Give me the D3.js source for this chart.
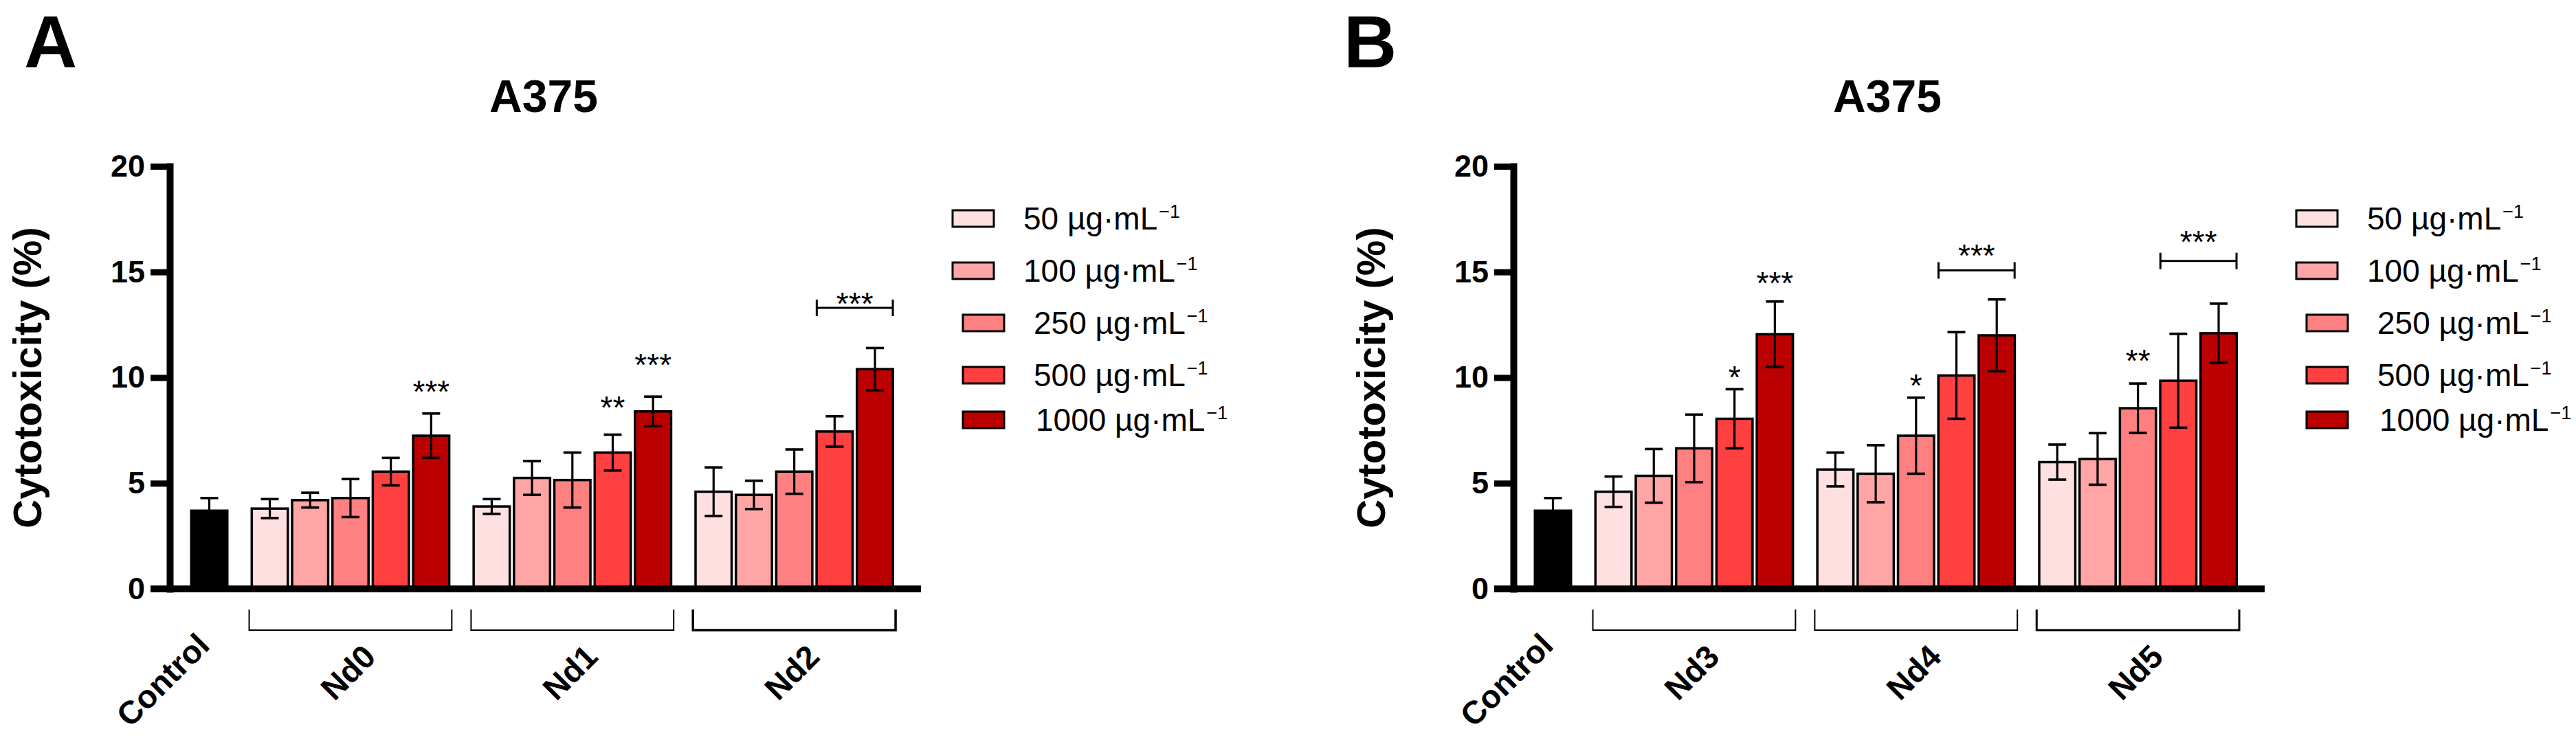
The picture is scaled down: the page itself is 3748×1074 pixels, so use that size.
<!DOCTYPE html>
<html>
<head>
<meta charset="utf-8">
<script src="https://cdn.jsdelivr.net/npm/d3@7"></script>
<style>
  body { margin: 0; background: #fff; }
  svg { display: block; }
  text { font-family: "Liberation Sans", Arial, sans-serif; fill: #000; }
</style>
</head>
<body>
<div id="chart"></div>
<script>
// ---- data ----
const yTicks = [0, 5, 10, 15, 20];
const doseLabels = ["50", "100", "250", "500", "1000"];
const doseColors = ["#FFE0E0", "#FFA5A5", "#FF8080", "#FF4040", "#BA0000"];
const controlMean = 3.7;
const controlErr = 0.6;

const groupsA = ["Nd0", "Nd1", "Nd2"];
const meansA = [
    [3.8, 4.2, 4.3, 5.55, 7.25],
    [3.9, 5.25, 5.15, 6.45, 8.4],
    [4.6, 4.45, 5.55, 7.45, 10.4]
];
const errorsA = [
    [0.45, 0.35, 0.9, 0.65, 1.05],
    [0.35, 0.8, 1.3, 0.85, 0.7],
    [1.15, 0.67, 1.05, 0.72, 1.0]
];
const starsA = [
    { group: 0, bar: 4, label: "***", at: 9.67 },
    { group: 1, bar: 3, label: "**", at: 8.93 },
    { group: 1, bar: 4, label: "***", at: 10.93 }
];
const bracketsA = [
    { group: 2, from: 3, to: 4, label: "***", at: 13.3, labelAt: 13.85 }
];

const groupsB = ["Nd3", "Nd4", "Nd5"];
const meansB = [
    [4.6, 5.35, 6.65, 8.05, 12.05],
    [5.65, 5.45, 7.25, 10.1, 12.0],
    [6.0, 6.15, 8.55, 9.85, 12.1]
];
const errorsB = [
    [0.72, 1.27, 1.6, 1.4, 1.55],
    [0.8, 1.35, 1.8, 2.05, 1.7],
    [0.83, 1.22, 1.17, 2.22, 1.4]
];
const starsB = [
    { group: 0, bar: 3, label: "*", at: 10.34 },
    { group: 0, bar: 4, label: "***", at: 14.8 },
    { group: 1, bar: 2, label: "*", at: 9.98 },
    { group: 2, bar: 2, label: "**", at: 11.15 }
];
const bracketsB = [
    { group: 1, from: 3, to: 4, label: "***", at: 15.07, labelAt: 16.1 },
    { group: 2, from: 3, to: 4, label: "***", at: 15.52, labelAt: 16.77 }
];

const width = 3748;
const height = 1074;

const svg = d3.select("#chart")
    .append("svg")
    .attr("width", width)
    .attr("height", height)
    .attr("viewBox", [0, 0, width, height]);

svg.append("rect").attr("width", width).attr("height", height).attr("fill", "#fff");

function drawPanel(ox, letter, letterX, groups, means, errors, stars, brackets, bracketWidths) {
    const g = svg.append("g");

    // slot 0 = control, then 5 bars per group with half a slot of gap
    const slotOf = (gi, j) => 1.5 + gi * 5.5 + j;
    const x = d3.scaleLinear().domain([0, 16.5]).range([ox + 304.5, ox + 304.5 + 16.5 * 58.7]);
    const y = d3.scaleLinear().domain([0, 20]).range([857, 242]);
    const barW = 52.5;
    const axisX = ox + 247;
    const tickLen = 28;

    // panel letter + title
    g.append("text")
        .attr("x", letterX).attr("y", 98)
        .attr("font-size", 107).attr("font-weight", "bold")
        .text(letter);
    g.append("text")
        .attr("x", ox + 791).attr("y", 163)
        .attr("text-anchor", "middle")
        .attr("font-size", 66).attr("font-weight", "bold")
        .text("A375");

    // bars
    const bars = [{ slot: 0, v: controlMean, e: controlErr, fill: "#000" }];
    means.forEach((row, gi) => row.forEach((v, j) => {
        bars.push({ slot: slotOf(gi, j), v: v, e: errors[gi][j], fill: doseColors[j] });
    }));

    g.append("g")
        .selectAll("rect")
        .data(bars)
        .join("rect")
        .attr("x", d => x(d.slot) - barW / 2)
        .attr("y", d => y(d.v))
        .attr("width", barW)
        .attr("height", d => y(0) - y(d.v))
        .attr("fill", d => d.fill)
        .attr("stroke", "#000")
        .attr("stroke-width", 3.5);

    // error bars
    const eb = g.append("g").attr("stroke", "#000");
    eb.selectAll("line.stem")
        .data(bars)
        .join("line")
        .attr("class", "stem")
        .attr("x1", d => x(d.slot)).attr("x2", d => x(d.slot))
        .attr("y1", d => y(d.v - d.e)).attr("y2", d => y(d.v + d.e))
        .attr("stroke-width", 3.2);
    eb.selectAll("line.capTop")
        .data(bars)
        .join("line")
        .attr("class", "capTop")
        .attr("x1", d => x(d.slot) - 13).attr("x2", d => x(d.slot) + 13)
        .attr("y1", d => y(d.v + d.e)).attr("y2", d => y(d.v + d.e))
        .attr("stroke-width", 3.6);
    eb.selectAll("line.capBot")
        .data(bars)
        .join("line")
        .attr("class", "capBot")
        .attr("x1", d => x(d.slot) - 13).attr("x2", d => x(d.slot) + 13)
        .attr("y1", d => y(d.v - d.e)).attr("y2", d => y(d.v - d.e))
        .attr("stroke-width", 3.6);

    // y axis
    const yAxis = g.append("g")
        .attr("transform", `translate(${axisX},0)`)
        .call(d3.axisLeft(y).tickValues(yTicks).tickSize(tickLen).tickSizeOuter(0).tickPadding(8));
    yAxis.select(".domain").attr("stroke", "#000").attr("stroke-width", 10).attr("stroke-linecap", "square");
    yAxis.selectAll(".tick line").attr("stroke", "#000").attr("stroke-width", 9);
    yAxis.selectAll(".tick text")
        .attr("font-size", 45).attr("font-weight", "bold")
        .attr("font-family", "'Liberation Sans', Arial, sans-serif")
        .attr("fill", "#000");

    // x axis line
    g.append("line")
        .attr("x1", axisX - tickLen).attr("x2", x(16.5) + 67)
        .attr("y1", y(0)).attr("y2", y(0))
        .attr("stroke", "#000").attr("stroke-width", 10);

    // y label
    g.append("text")
        .attr("transform", `translate(${ox + 60},${(y(0) + y(20)) / 2}) rotate(-90)`)
        .attr("text-anchor", "middle")
        .attr("font-size", 58).attr("font-weight", "bold")
        .text("Cytotoxicity (%)");

    // control label
    g.append("text")
        .attr("transform", `translate(${x(0) + 3},942) rotate(-45)`)
        .attr("text-anchor", "end")
        .attr("font-size", 47).attr("font-weight", "bold")
        .text("Control");

    // group brackets + labels
    groups.forEach((name, gi) => {
        const x0 = x(slotOf(gi, 0)) - 30;
        const x1 = x(slotOf(gi, 4)) + 30;
        g.append("path")
            .attr("d", `M${x0},${y(0) + 30}V${y(0) + 60}H${x1}V${y(0) + 30}`)
            .attr("fill", "none")
            .attr("stroke", "#000")
            .attr("stroke-width", bracketWidths[gi]);
        const gc = (x0 + x1) / 2;
        g.append("text")
            .attr("transform", `translate(${gc + 8},990) rotate(-45)`)
            .attr("text-anchor", "middle")
            .attr("font-size", 47).attr("font-weight", "bold")
            .text(name);
    });

    // significance stars over single bars
    const starSize = 46;
    g.append("g")
        .selectAll("text")
        .data(stars)
        .join("text")
        .attr("x", d => x(slotOf(d.group, d.bar)))
        .attr("y", d => y(d.at) + starSize * 0.575)
        .attr("text-anchor", "middle")
        .attr("font-size", starSize)
        .text(d => d.label);

    // bracket annotations
    brackets.forEach(b => {
        const bx0 = x(slotOf(b.group, b.from)) - 26;
        const bx1 = x(slotOf(b.group, b.to)) + 26;
        const by = y(b.at);
        g.append("path")
            .attr("d", `M${bx0},${by - 12}V${by + 12}M${bx0},${by}H${bx1}M${bx1},${by - 12}V${by + 12}`)
            .attr("fill", "none").attr("stroke", "#000").attr("stroke-width", 3);
        g.append("text")
            .attr("x", (bx0 + bx1) / 2)
            .attr("y", y(b.labelAt) + starSize * 0.575)
            .attr("text-anchor", "middle")
            .attr("font-size", starSize)
            .text(b.label);
    });

    // legend
    const rowOffsets = [0, 76, 152, 228, 293];
    const leg = g.append("g");
    doseLabels.forEach((lab, i) => {
        const indent = i < 2 ? 0 : 15;
        const cy = 318 + rowOffsets[i];
        leg.append("rect")
            .attr("x", ox + 1386 + indent).attr("y", cy - 12)
            .attr("width", 60).attr("height", 24)
            .attr("fill", doseColors[i])
            .attr("stroke", "#000").attr("stroke-width", 3);
        const t = leg.append("text")
            .attr("x", ox + 1489 + indent + (i === 4 ? 3 : 0))
            .attr("y", cy + 16)
            .attr("font-size", 46);
        t.append("tspan").text(lab + " \u00B5g\u00B7mL");
        t.append("tspan").attr("font-size", 27).attr("dy", -17).attr("dx", 2).text("\u22121");
    });
}

drawPanel(0, "A", 35, groupsA, meansA, errorsA, starsA, bracketsA, [2, 2, 3.5]);
drawPanel(1955, "B", 1955, groupsB, meansB, errorsB, starsB, bracketsB, [2, 2, 3]);
</script>
</body>
</html>
